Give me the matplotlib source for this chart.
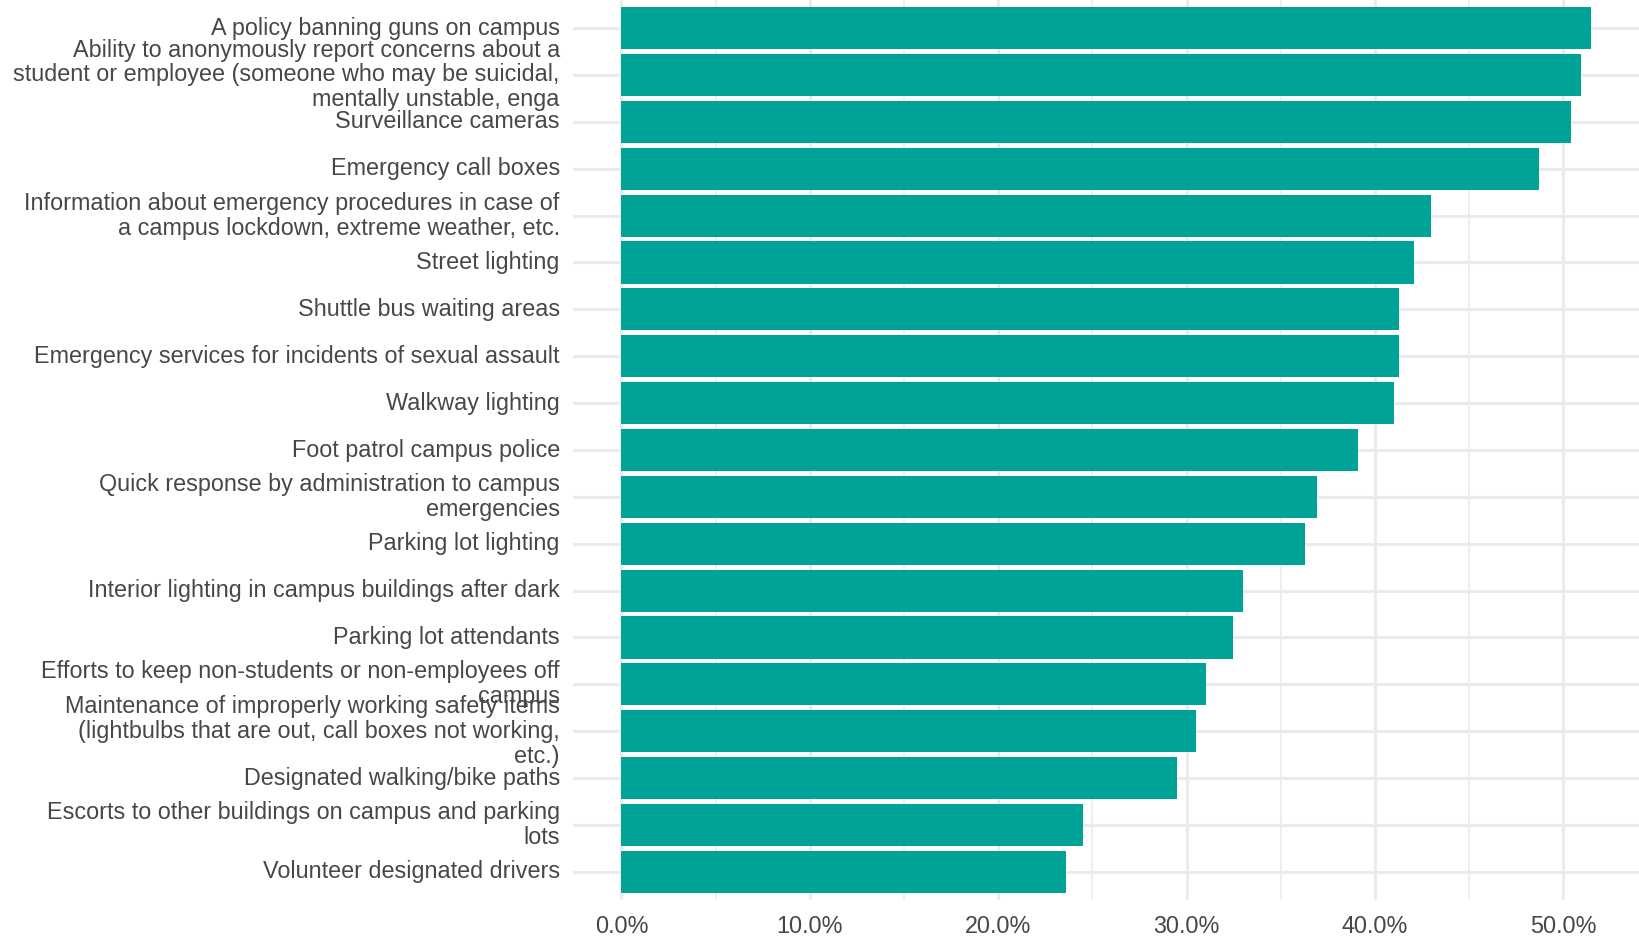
import numpy as np
import matplotlib
matplotlib.use("Agg")
import matplotlib.pyplot as plt
from matplotlib.ticker import MultipleLocator, FuncFormatter

plt.rcParams['font.family'] = ['Liberation Sans', 'DejaVu Sans']

# safety measures, top to bottom, with share of respondents (%)
measures = [
    "A policy banning guns on campus",
    "Ability to anonymously report concerns about a\nstudent or employee (someone who may be suicidal,\nmentally unstable, enga",
    "Surveillance cameras",
    "Emergency call boxes",
    "Information about emergency procedures in case of\na campus lockdown, extreme weather, etc.",
    "Street lighting",
    "Shuttle bus waiting areas",
    "Emergency services for incidents of sexual assault",
    "Walkway lighting",
    "Foot patrol campus police",
    "Quick response by administration to campus\nemergencies",
    "Parking lot lighting",
    "Interior lighting in campus buildings after dark",
    "Parking lot attendants",
    "Efforts to keep non-students or non-employees off\ncampus",
    "Maintenance of improperly working safety items\n(lightbulbs that are out, call boxes not working,\netc.)",
    "Designated walking/bike paths",
    "Escorts to other buildings on campus and parking\nlots",
    "Volunteer designated drivers",
]
pct = [51.5, 50.95, 50.4, 48.7, 43.0, 42.1, 41.3, 41.3, 41.0, 39.1,
       36.9, 36.3, 33.0, 32.45, 31.05, 30.5, 29.5, 24.5, 23.6]

bar_col = "#00A398"
grid_col = "#EBEBEB"
txt_col = "#474747"

fig = plt.figure(figsize=(16.4, 9.38), dpi=100)
ax = fig.add_axes([573/1640, 1 - 900/938, 1 - 573/1640, 900/938])

y = np.arange(len(measures))
ax.barh(y, pct, height=0.9, color=bar_col, zorder=3)

pad = 0.05 * max(pct)
ax.set_xlim(-pad, max(pct) + pad)
ax.set_ylim(len(measures) - 0.4, -0.6)

ax.set_yticks(y)
ax.set_yticklabels(measures, fontsize=16.8, color=txt_col, va='center',
                   linespacing=1.1)
ax.xaxis.set_major_locator(MultipleLocator(10))
ax.xaxis.set_minor_locator(MultipleLocator(5))
ax.xaxis.set_major_formatter(FuncFormatter(lambda v, p: f"{v:.1f}%"))
for lab in ax.get_xticklabels():
    lab.set_fontsize(16.8)
    lab.set_color(txt_col)

ax.tick_params(axis='both', which='both', length=0)
ax.tick_params(axis='y', pad=9.5)
ax.tick_params(axis='x', pad=11)

ax.grid(True, which='major', axis='both', color=grid_col, linewidth=2.2, zorder=0)
ax.grid(True, which='minor', axis='x', color=grid_col, linewidth=1.1, zorder=0)
for s in ax.spines.values():
    s.set_visible(False)

fig.savefig("out.png", dpi=100)
